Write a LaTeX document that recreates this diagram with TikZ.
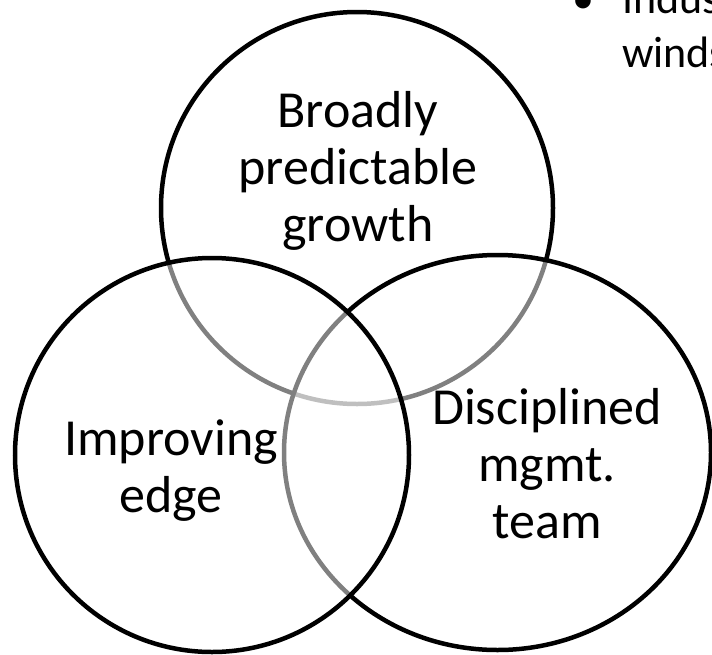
\documentclass[tikz,border=0pt]{standalone}
\usepackage{fontspec}
\setmainfont{Carlito}
\begin{document}
\begin{tikzpicture}[x=1pt,y=-1pt,
  venn/.style={draw=black,line width=4.5pt,fill=white,fill opacity=0.5},
  lbl/.style={align=center,inner sep=0pt,font=\fontsize{52}{57}\selectfont,text=black},
  side/.style={inner sep=0pt,font=\fontsize{44}{52}\selectfont,text=black}]
\useasboundingbox (0,0) rectangle (712,654);
\clip (0,0) rectangle (712,654);
\fill[white] (0,0) rectangle (712,654);
% circles: top, right, left (drawing order)
\path[venn] (357,208) circle [radius=196];
\path[venn] (497.5,452.5) ellipse [x radius=213.5, y radius=197.5];
\path[venn] (212,455) circle [radius=197];
% labels (anchor base = baseline of last line)
\node[lbl,anchor=base] (top) at (358,241) {Broadly\\predictable\\growth};
\node[lbl,anchor=base] (left) at (171,512) {Improving\\edge};
\node[lbl,anchor=base] (right) at (547,538) {Disciplined\\mgmt.\\team};
% cut-off bullet text at top right
\node[side,anchor=base] (bul) at (583,13) {•};
\node[side,anchor=base west] (l1) at (622,13) {Indus};
\node[side,anchor=base west] (l2) at (622,67) {winds};
\end{tikzpicture}
\end{document}
